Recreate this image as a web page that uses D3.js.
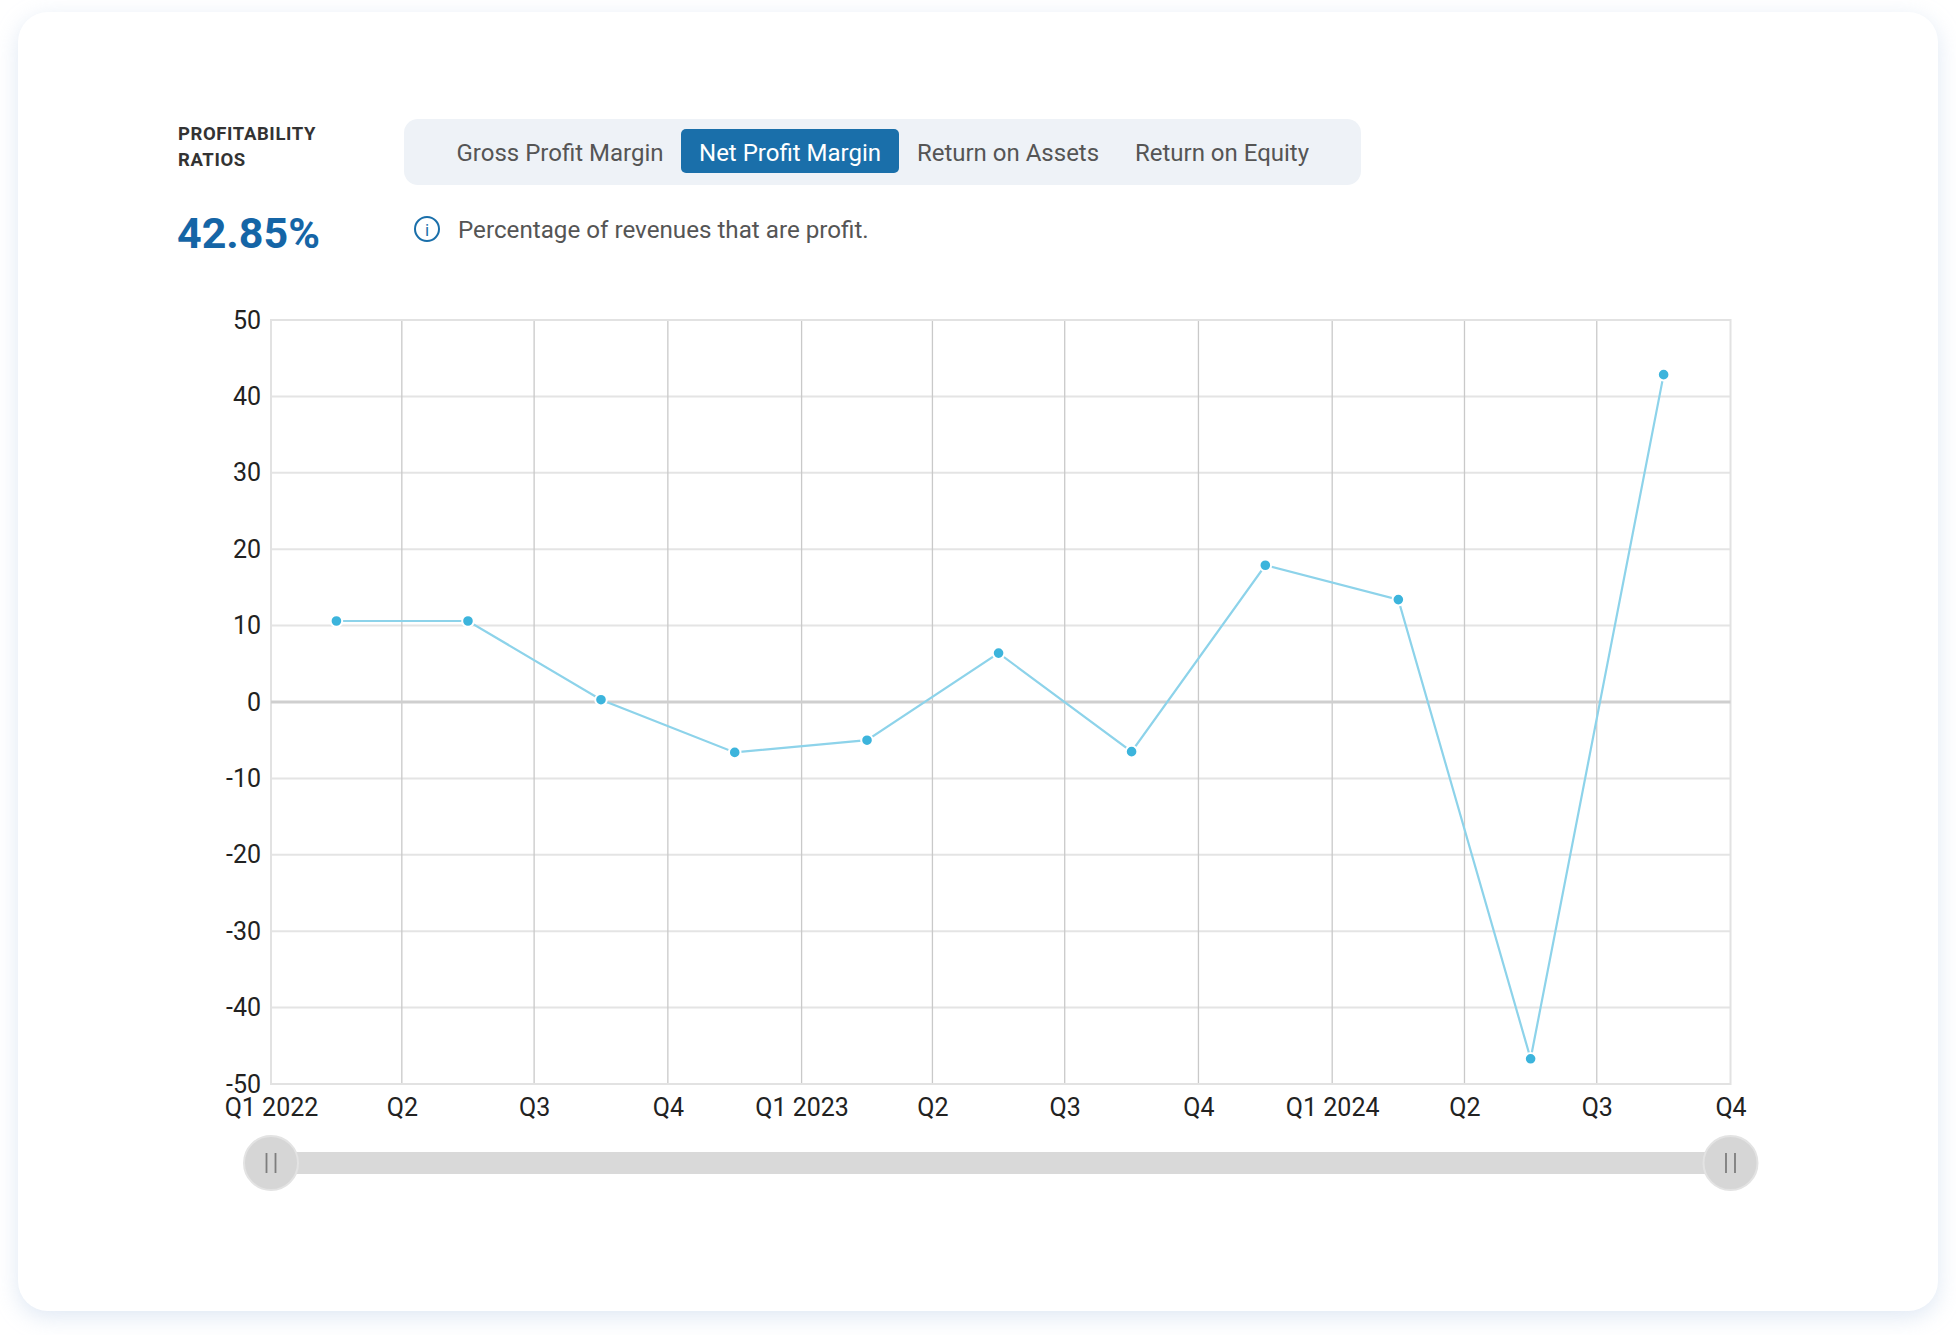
<!DOCTYPE html>
<html>
<head>
<meta charset="utf-8">
<script src="https://cdn.jsdelivr.net/npm/d3@7/dist/d3.min.js"></script>
<style>
  html, body { margin: 0; padding: 0; background: #ffffff; width: 1956px; height: 1335px; overflow: hidden; }
  .card { position: absolute; left: 18px; top: 12px; width: 1920px; height: 1299px; background: #fff;
          border-radius: 30px; box-shadow: 0 6px 22px rgba(170, 195, 225, 0.38); }
  svg { position: absolute; left: 0; top: 0; font-family: Roboto, "Noto Sans", sans-serif; }
</style>
</head>
<body>
<div class="card"></div>
<svg id="chart" width="1956" height="1335"></svg>
<script>
// ---- data ----
const titleLines = ["PROFITABILITY", "RATIOS"];
const headlineValue = "42.85%";
const tabs = ["Gross Profit Margin", "Net Profit Margin", "Return on Assets", "Return on Equity"];
const activeTab = "Net Profit Margin";
const description = "Percentage of revenues that are profit.";
const quarters = ["2022-Q1","2022-Q2","2022-Q3","2022-Q4","2023-Q1","2023-Q2","2023-Q3","2023-Q4","2024-Q1","2024-Q2","2024-Q3"];
const netProfitMargin = [10.6, 10.6, 0.3, -6.6, -5.0, 6.4, -6.5, 17.9, 13.4, -46.7, 42.85];
const yTicks = [-50, -40, -30, -20, -10, 0, 10, 20, 30, 40, 50];

// ---- helpers ----
const svg = d3.select("#chart");
function quarterStart(q) { const [yy, n] = q.split("-Q"); return new Date(+yy, (+n - 1) * 3, 1); }
function quarterMid(q) { const s = quarterStart(q); const e = d3.timeMonth.offset(s, 3); return new Date((s.getTime() + e.getTime()) / 2); }
const data = quarters.map((q, i) => ({ date: quarterMid(q), value: netProfitMargin[i] }));

// ---- header ----
svg.append("g").selectAll("text").data(titleLines).join("text")
  .attr("x", 178).attr("y", (d, i) => 140 + i * 26)
  .attr("font-size", 18.5).attr("font-weight", 700).attr("letter-spacing", 0.6)
  .attr("fill", "#333").text(d => d);

svg.append("text").attr("x", 177).attr("y", 248)
  .attr("font-size", 43).attr("font-weight", 700).attr("fill", "#1565a6")
  .text(headlineValue);

// tabs
const tabCenters = [560, 790, 1008, 1222];
svg.append("rect").attr("x", 404).attr("y", 119).attr("width", 957).attr("height", 66)
  .attr("rx", 14).attr("fill", "#eef2f7");
const ai = tabs.indexOf(activeTab);
svg.append("rect").attr("x", 681).attr("y", 129).attr("width", 218).attr("height", 44)
  .attr("rx", 5).attr("fill", "#1a6faa");
svg.append("g").selectAll("text").data(tabs).join("text")
  .attr("x", (d, i) => tabCenters[i]).attr("y", 161).attr("text-anchor", "middle")
  .attr("font-size", 24).attr("fill", (d, i) => i === ai ? "#ffffff" : "#555")
  .text(d => d);

// info
svg.append("circle").attr("cx", 427).attr("cy", 229).attr("r", 12).attr("fill", "none")
  .attr("stroke", "#1a6faa").attr("stroke-width", 2);
svg.append("text").attr("x", 427).attr("y", 235.5).attr("text-anchor", "middle")
  .attr("font-size", 17).attr("fill", "#1a6faa").text("i");
svg.append("text").attr("x", 458).attr("y", 238).attr("font-size", 24.2).attr("fill", "#555")
  .text(description);

// ---- chart ----
const x = d3.scaleTime().domain([new Date(2022, 0, 1), new Date(2024, 9, 1)]).range([271, 1730.5]);
const y = d3.scaleLinear().domain([-50, 50]).range([1084, 320]);
const xTicks = d3.timeMonth.range(new Date(2022, 0, 1), d3.timeDay.offset(new Date(2024, 9, 1), 1), 3);
const fmt = d => d.getMonth() === 0 ? `Q1 ${d.getFullYear()}` : `Q${d.getMonth() / 3 + 1}`;

const grid = svg.append("g");
grid.selectAll("line.h").data(yTicks.filter(t => t !== 0 && t !== 50 && t !== -50)).join("line")
  .attr("x1", x.range()[0]).attr("x2", x.range()[1])
  .attr("y1", d => y(d)).attr("y2", d => y(d))
  .attr("stroke", "#e4e4e4").attr("stroke-width", 2);
grid.selectAll("line.v").data(xTicks.slice(1, -1)).join("line")
  .attr("x1", d => x(d)).attr("x2", d => x(d))
  .attr("y1", y(50)).attr("y2", y(-50))
  .attr("stroke", "#c9c9c9").attr("stroke-width", 1.3);
grid.append("rect").attr("x", x.range()[0]).attr("y", y(50))
  .attr("width", x.range()[1] - x.range()[0]).attr("height", y(-50) - y(50))
  .attr("fill", "none").attr("stroke", "#e2e2e2").attr("stroke-width", 2);
grid.append("line").attr("x1", x.range()[0]).attr("x2", x.range()[1])
  .attr("y1", y(0)).attr("y2", y(0)).attr("stroke", "#cfcfcf").attr("stroke-width", 3);

// axes
const yAxis = svg.append("g").attr("transform", `translate(${x.range()[0]},0)`)
  .call(d3.axisLeft(y).tickValues(yTicks).tickFormat(d => String(d)).tickSize(0).tickPadding(10));
yAxis.select(".domain").remove();
yAxis.selectAll("text").attr("font-size", 25).attr("fill", "#222").attr("font-family", "Roboto");

const xAxis = svg.append("g").attr("transform", `translate(0,${y(-50)})`)
  .call(d3.axisBottom(x).tickValues(xTicks).tickFormat(fmt).tickSize(0).tickPadding(14));
xAxis.select(".domain").remove();
xAxis.selectAll("text").attr("font-size", 25).attr("fill", "#222").attr("font-family", "Roboto")
  .attr("dy", "0.71em");

// line + points
svg.append("path").datum(data)
  .attr("d", d3.line().x(d => x(d.date)).y(d => y(d.value)))
  .attr("fill", "none").attr("stroke", "#8dd3ea").attr("stroke-width", 2.2);
svg.append("g").selectAll("circle").data(data).join("circle")
  .attr("cx", d => x(d.date)).attr("cy", d => y(d.value)).attr("r", 5.8)
  .attr("fill", "#3cb4dc").attr("stroke", "#ffffff").attr("stroke-width", 2);

// ---- range slider ----
const sy = 1163;
svg.append("rect").attr("x", x.range()[0]).attr("y", sy - 11)
  .attr("width", x.range()[1] - x.range()[0]).attr("height", 22).attr("fill", "#d9d9d9");
const handles = svg.append("g").selectAll("g").data(x.domain()).join("g")
  .attr("transform", d => `translate(${x(d)},${sy})`);
handles.append("circle").attr("r", 27).attr("fill", "#d6d6d6").attr("stroke", "#e3e3e3").attr("stroke-width", 2);
handles.selectAll("line").data([-4.5, 4.5]).join("line")
  .attr("x1", d => d).attr("x2", d => d).attr("y1", -10).attr("y2", 10)
  .attr("stroke", "#7d7d7d").attr("stroke-width", 1.8);
</script>
</body>
</html>
